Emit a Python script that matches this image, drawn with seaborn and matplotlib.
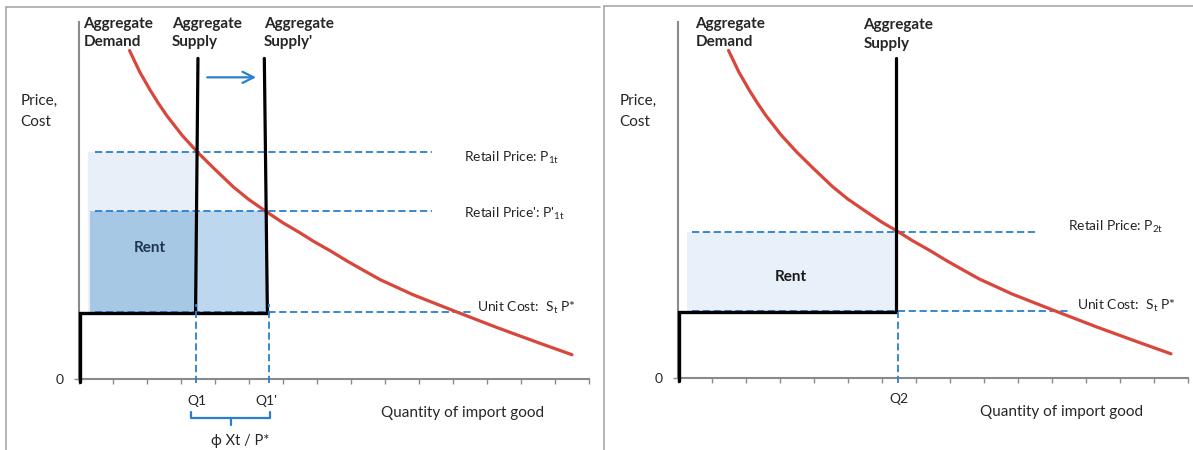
import numpy as np
import pandas as pd
import seaborn as sns
import matplotlib.pyplot as plt
from matplotlib.lines import Line2D

# ---------------- values ----------------
# demand curve (the same curve in both panels)
demand_q = [1.5, 1.8, 2.1, 2.35, 2.6, 3.05, 3.5, 4.0, 4.55, 5.0, 5.5, 6.0, 6.5, 6.9,
            7.4, 7.9, 8.4, 8.87, 9.83, 11.0, 12.3, 13.56, 14.5]
demand_p = [9.2, 8.6, 8.1, 7.72, 7.37, 6.82, 6.35, 5.88, 5.38, 5.03, 4.7, 4.38, 4.1, 3.86,
            3.59, 3.3, 3.03, 2.78, 2.36, 1.92, 1.44, 1.0, 0.68]

unit_cost = 1.86
supply_top = 8.98

# left panel
p1t = 6.36
p1t_new = 4.71
q1 = 3.45
q1_new = 5.57
as_x = [3.44, 3.51]       # bottom, top of Aggregate Supply
as_new_x = [5.55, 5.46]   # bottom, top of Aggregate Supply'

# right panel
p2t = 4.09
q2 = 6.46

sns.set_style('white')
plt.rcParams['font.family'] = ['Lato', 'DejaVu Sans']
plt.rcParams['mathtext.fontset'] = 'custom'
plt.rcParams['mathtext.rm'] = 'Lato'
plt.rcParams['mathtext.it'] = 'Lato:italic'
plt.rcParams['mathtext.bf'] = 'Lato:bold'

W, H = 1193, 450
fig = plt.figure(figsize=(W / 100, H / 100), dpi=100)
ax1 = fig.add_axes([78.5 / W, 1 - 379 / H, 510.5 / W, 357 / H])
ax2 = fig.add_axes([677.5 / W, 1 - 378 / H, 510.5 / W, 356 / H])

blue = '#2a7fcc'
red = '#d9463b'
grey = '#8a8a8a'
dash = dict(color=blue, lw=1.3, ls=(0, (4, 2)))


def base_axes(ax):
    ax.set_xlim(0, 15)
    ax.set_ylim(0, 10)
    for s in ['top', 'right']:
        ax.spines[s].set_visible(False)
    for s in ['left', 'bottom']:
        ax.spines[s].set_color(grey)
        ax.spines[s].set_linewidth(1.5)
    ax.set_xticks(range(16))
    ax.set_xticklabels([])
    ax.set_yticks([0])
    ax.set_yticklabels(['0'])
    ax.tick_params(axis='both', direction='out', length=3.5, width=1, color=grey,
                   labelsize=10, pad=7, bottom=True, left=True)
    ax.set_xlabel('')
    ax.set_ylabel('')
    ax.text(-1.7, 7.5, 'Price,\nCost', fontsize=11, va='center', ha='left', linespacing=1.65)
    ax.text(8.9, -0.95, 'Quantity of import good', fontsize=11, va='center', ha='left')


# ------------------------- left panel -------------------------
base_axes(ax1)
ax1.fill_between([0.29, q1], unit_cost, p1t, color='#e8eff8', lw=0, zorder=1)
ax1.fill_between([0.33, q1_new], unit_cost, p1t_new, color='#bdd7ee', lw=0, zorder=1)
ax1.fill_between([0.33, q1], unit_cost, p1t_new, color='#a6c8e4', lw=0, zorder=1)

ax1.plot([0.48, 10.4], [p1t, p1t], zorder=2, **dash)
ax1.plot([0.48, 10.4], [p1t_new, p1t_new], zorder=2, **dash)
ax1.plot([0.48, 11.55], [unit_cost + 0.03, unit_cost + 0.03], zorder=2, **dash)

sns.lineplot(x=demand_q, y=demand_p, ax=ax1, color=red, lw=2.3, sort=False, zorder=3,
             solid_joinstyle='round')

ax1.plot([0.04, 0.04, q1_new], [-0.08, unit_cost, unit_cost], color='black', lw=2.4,
         zorder=4, clip_on=False, solid_joinstyle='miter')
ax1.plot(as_x, [unit_cost, supply_top], color='black', lw=2.3, zorder=4)
ax1.plot(as_new_x, [unit_cost, supply_top], color='black', lw=2.3, zorder=4)

ax1.plot([q1, q1], [-0.1, 2.1], zorder=5, clip_on=False, **dash)
ax1.plot([5.6, 5.6], [-0.1, 2.1], zorder=5, clip_on=False, **dash)

ax1.annotate('', xy=(5.3, 8.45), xytext=(3.7, 8.45),
             arrowprops=dict(arrowstyle='->', color=blue, lw=1.6, mutation_scale=20))

bold = dict(fontsize=11, fontweight='bold', va='top', ha='left', linespacing=1.4)
ax1.text(0.14, 10.15, 'Aggregate\nDemand', **bold)
ax1.text(2.75, 10.15, 'Aggregate\nSupply', **bold)
ax1.text(5.45, 10.15, "Aggregate\nSupply'", **bold)
ax1.text(2.11, 3.66, 'Rent', fontsize=11, fontweight='bold', color='#1f3550',
         ha='center', va='center', zorder=6)

ax1.text(11.33, 6.2, r'Retail Price: P$_{\mathrm{1t}}$', fontsize=10, va='center')
ax1.text(11.33, 4.62, r"Retail Price': P'$_{\mathrm{1t}}$", fontsize=10, va='center')
ax1.text(11.72, 2.0, r'Unit Cost:  S$_{\mathrm{t}}$ P*', fontsize=10, va='center')

ax1.text(3.49, -0.63, 'Q1', fontsize=10, ha='center', va='center')
ax1.text(5.52, -0.63, "Q1'", fontsize=10, ha='center', va='center')
brace_x = [3.32, 3.32, 5.62, 5.62]
brace_y = [-0.92, -1.10, -1.10, -0.92]
ax1.plot(brace_x, brace_y, color=blue, lw=1.6, clip_on=False)
ax1.plot([4.47, 4.47], [-1.10, -1.29], color=blue, lw=1.6, clip_on=False)
ax1.text(4.74, -1.75, 'ϕ Xt / P*', fontsize=10.5, ha='center', va='center')

# ------------------------- right panel ------------------------
base_axes(ax2)
ax2.fill_between([0.28, q2], unit_cost, p2t, color='#e8f0f9', lw=0, zorder=1)

ax2.plot([0.44, 10.53], [p2t, p2t], zorder=2, **dash)
ax2.plot([0.44, 11.53], [unit_cost + 0.03, unit_cost + 0.03], zorder=2, **dash)

sns.lineplot(x=demand_q, y=demand_p, ax=ax2, color=red, lw=2.3, sort=False, zorder=3,
             solid_joinstyle='round')

ax2.plot([0.04, 0.04, q2 - 0.04], [-0.08, unit_cost, unit_cost], color='black', lw=2.4,
         zorder=4, clip_on=False, solid_joinstyle='miter')
ax2.plot([q2 - 0.04, q2 - 0.04], [unit_cost, supply_top], color='black', lw=2.3, zorder=4)
ax2.plot([q2 + 0.03, q2 + 0.03], [-0.15, unit_cost], zorder=5, clip_on=False, **dash)

ax2.text(0.53, 10.15, 'Aggregate\nDemand', **bold)
ax2.text(5.46, 10.1, 'Aggregate\nSupply', **bold)
ax2.text(3.34, 2.83, 'Rent', fontsize=11, fontweight='bold', color='#1a1a1a',
         ha='center', va='center', zorder=6)

ax2.text(11.48, 4.25, r'Retail Price: P$_{\mathrm{2t}}$', fontsize=10, va='center')
ax2.text(11.75, 2.03, r'Unit Cost:  S$_{\mathrm{t}}$ P*', fontsize=10, va='center')
ax2.text(6.5, -0.6, 'Q2', fontsize=10, ha='center', va='center')

# panel frames
fc = '#a8a8a8'
fig.add_artist(Line2D([5.7 / W, 5.7 / W], [0, 1 - 7.3 / H], color=fc, lw=1.2))
fig.add_artist(Line2D([5.7 / W, 600 / W], [1 - 7.3 / H, 1 - 7.3 / H], color=fc, lw=1.2))
fig.add_artist(Line2D([604 / W, 604 / W], [0, 1 - 5.7 / H], color=fc, lw=1.2))
fig.add_artist(Line2D([604 / W, 1], [1 - 5.7 / H, 1 - 5.7 / H], color=fc, lw=1.2))

fig.savefig('out.png', dpi=100)
